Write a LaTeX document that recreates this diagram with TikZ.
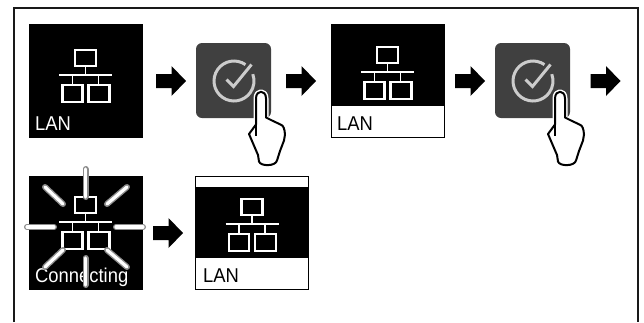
\documentclass[tikz,border=0pt]{standalone}
\usepackage{fontspec}
\setmainfont{Liberation Sans}
\tikzset{
	screen/.style = {draw = black, line width = .8pt, fill = black, minimum size = 113pt, inner sep = 0pt},
	whitescreen/.style = {screen, fill = white},
	band/.style = {fill = black, minimum width = 113pt, inner sep = 0pt},
	okbutton/.style = {fill = black!75, rounded corners = 6pt, minimum size = 75pt, inner sep = 0pt},
	lanlabel/.style = {anchor = base west, inner sep = 0pt, font = \fontsize{20}{20}\selectfont, xscale = .92},
	ray/.style = {line width = 6pt, line cap = round, color = black!45},
	raycore/.style = {line width = 3.2pt, line cap = round, color = white},
	lanicon/.pic = {
		\draw[white, line width = 2.2pt] (-10.5,-25) rectangle (10.5,-9);
		\draw[white, line width = 2.2pt] (-23,10) rectangle (-3,27);
		\draw[white, line width = 2.2pt] (3,10) rectangle (24,27);
		\draw[white, line width = 1.2pt] (-26.5,0) -- (26.5,0);
		\draw[white, line width = 1.2pt] (0,-9) -- (0,0);
		\draw[white, line width = 1.2pt] (-13,0) -- (-13,10);
		\draw[white, line width = 1.2pt] (13,0) -- (13,10);
	},
	okicon/.pic = {
		\draw[black!20, line width = 3pt] (0.5,0.5) ++(55:20pt) arc[start angle = 55, end angle = 380, radius = 20pt];
		\draw[black!20, line width = 3pt] (-7,-1) -- (0,6) -- (18,-16);
		\path[draw = white, line width = 5pt, line join = round]
			(32.5,37) -- (32.5,18) .. controls (32.5,9) and (22.5,9) .. (22.5,18) -- (22.5,44);
		\draw[fill = white, line width = 2pt, line join = round]
			(22.5,44) -- (15.5,53.5) -- (24.5,74.5) -- (25.5,81)
			.. controls (27,86) and (42,86) .. (43.5,80) -- (46.5,70.5) -- (50.5,60) -- (51.5,54)
			.. controls (51,48) and (50,45) .. (47,44) -- (38.5,40) -- (32.5,37)
			-- (32.5,18) .. controls (32.5,9) and (22.5,9) .. (22.5,18) -- (22.5,44);
		\draw[line width = 1.2pt] (22.5,42) -- (22.5,55);
	},
	nextarrow/.pic = {
		\fill (0,-7) -- (15.5,-7) -- (15.5,-15) -- (30,0) -- (15.5,15) -- (15.5,7) -- (0,7) -- cycle;
	}
}

\begin{document}
\begin{tikzpicture}[x = 1pt, y = -1pt]
	\useasboundingbox (0,0) rectangle (644,322);
	% frame
	\draw[line width = 2pt, color = black!90] (13.5,322) -- (13.5,7.5) -- (638,7.5) -- (638,322);
	% first row
	\node (lan1) [screen] at (85.5,80.5) {};
	\pic at (85.5,75) {lanicon};
	\node (lan1text) [lanlabel, white] at (35,130.5) {LAN};
	\pic at (156,81) {nextarrow};
	\node (ok1) [okbutton] at (233.5,80.5) {};
	\pic at (233.5,80.5) {okicon};
	\pic at (286,81) {nextarrow};
	\node (lan2) [whitescreen] at (387.5,80.5) {};
	\node (lan2band) [band, minimum height = 82pt] at (387.5,65) {};
	\pic at (387.5,72) {lanicon};
	\node (lan2text) [lanlabel] at (337,130.5) {LAN};
	\pic at (455,81) {nextarrow};
	\node (ok2) [okbutton] at (532.5,80.5) {};
	\pic at (532.5,80.5) {okicon};
	\pic at (590.5,81) {nextarrow};
	% second row
	\node (lan3) [screen] at (85.5,232.5) {};
	\node (lan3text) [lanlabel, white] at (35,282.5) {Connecting};
	\pic at (85.5,222) {lanicon};
	\foreach \xa/\ya/\xb/\yb in {85.5/169/85.5/197, 27/227/54/227, 116/227/143/227, 85.5/258/85.5/285,
		45/187/63/204, 127/187/107/204, 45/267/63/250, 127/267/107/250} {
		\draw[ray] (\xa,\ya) -- (\xb,\yb);
		\draw[raycore] (\xa,\ya) -- (\xb,\yb);
	}
	\pic at (153,233) {nextarrow};
	\node (lan4) [whitescreen] at (252,232.5) {};
	\node (lan4band) [band, minimum height = 71pt] at (252,222.5) {};
	\pic at (252,224) {lanicon};
	\node (lan4text) [lanlabel] at (203,282.5) {LAN};
\end{tikzpicture}
\end{document}
